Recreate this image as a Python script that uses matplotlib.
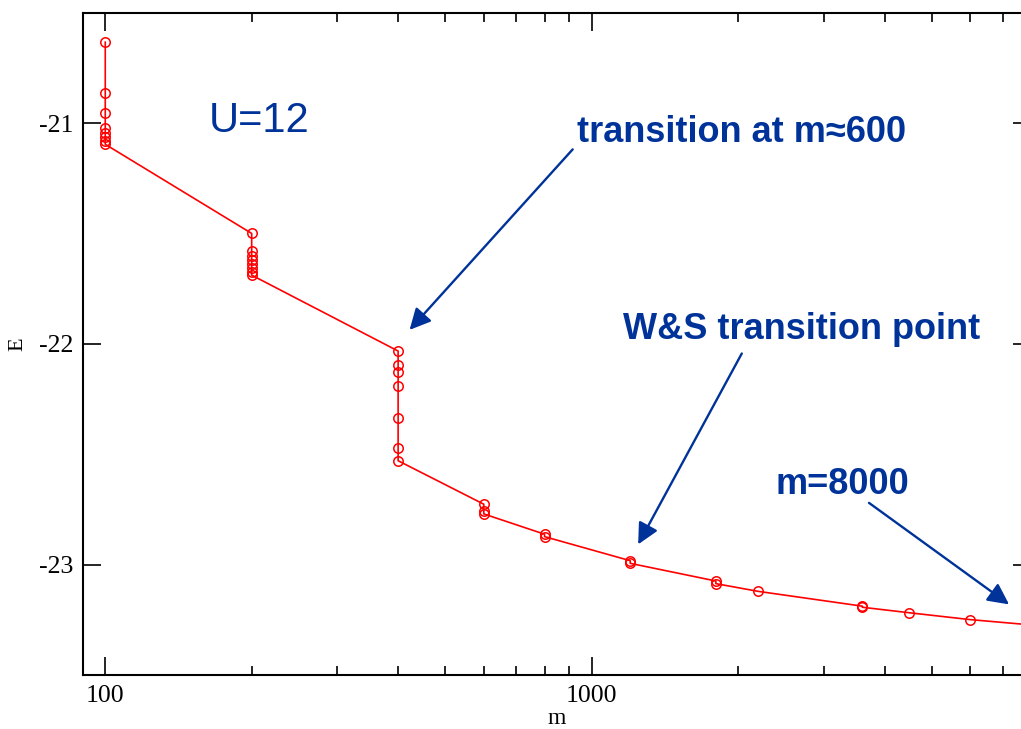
import matplotlib
matplotlib.use("Agg")
import matplotlib.pyplot as plt
from matplotlib.ticker import FixedLocator, NullFormatter, NullLocator

plt.rcParams['axes.unicode_minus'] = False

# Data: m (number of states) and energies E
m_vals = [100, 100, 100, 100, 100, 100, 100, 100,
          200, 200, 200, 200, 200, 200, 200, 200,
          400, 400, 400, 400, 400, 400, 400,
          600, 600, 600,
          800, 800,
          1200, 1200,
          1800, 1800,
          2200,
          3600, 3600,
          4500,
          6000,
          8000]
E_vals = [-20.632, -20.864, -20.955, -21.023, -21.045, -21.064, -21.082, -21.095,
          -21.499, -21.580, -21.600, -21.620, -21.638, -21.656, -21.673, -21.688,
          -22.032, -22.094, -22.129, -22.191, -22.335, -22.471, -22.529,
          -22.726, -22.759, -22.770,
          -22.862, -22.873,
          -22.982, -22.994,
          -23.074, -23.086,
          -23.121,
          -23.188, -23.193,
          -23.218,
          -23.249,
          -23.273]

x_major = [100, 1000]
x_minor = [200, 300, 400, 500, 600, 700, 800, 900,
           2000, 3000, 4000, 5000, 6000, 7000, 8000]
y_major = [-23, -22, -21]

blue = '#003399'

W, H = 1021, 729
fig = plt.figure(figsize=(W / 100, H / 100), dpi=100)
ax = fig.add_axes([83 / W, (H - 675) / H, (1031 - 83) / W, (675 - 13) / H])

ax.plot(m_vals, E_vals, color='red', lw=1.2, marker='o', mfc='none',
        mec='red', ms=6.8, mew=1.1)

ax.set_xscale('log')
ax.set_xlim(90, 8000)
ax.set_ylim(-23.5, -20.5)

ax.xaxis.set_major_locator(FixedLocator(x_major))
ax.xaxis.set_minor_locator(FixedLocator(x_minor))
ax.xaxis.set_minor_formatter(NullFormatter())
ax.set_xticklabels([str(v) for v in x_major])
ax.yaxis.set_major_locator(FixedLocator(y_major))
ax.yaxis.set_minor_locator(NullLocator())
ax.set_yticklabels([str(v) for v in y_major])

ax.tick_params(which='both', direction='in', top=True, right=True, width=1.2)
ax.tick_params(which='major', length=13, pad=7)
ax.tick_params(which='minor', length=6.5)
for lab in ax.get_xticklabels() + ax.get_yticklabels():
    lab.set_fontfamily('Liberation Serif')
    lab.set_fontsize(18.5)
for s in ax.spines.values():
    s.set_linewidth(1.5)

ax.set_xlabel('m', family='Liberation Serif', fontsize=17, labelpad=1)
ax.set_ylabel('E', family='Liberation Serif', fontsize=16, labelpad=8)

# annotations
ax.text(162.9, -21.041, 'U=12', color=blue, family='Liberation Sans',
        fontsize=30, ha='left', va='baseline')
ax.text(931, -21.086, 'transition at m\u2248600', color=blue,
        family='Liberation Sans', fontweight='bold', fontsize=26,
        ha='left', va='baseline')
ax.text(1158, -21.976, 'W&S transition point', color=blue,
        family='Liberation Sans', fontweight='bold', fontsize=26,
        ha='left', va='baseline')
ax.text(2391, -22.680, 'm=8000', color=blue, family='Liberation Sans',
        fontweight='bold', fontsize=26, ha='left', va='baseline')

arrow_kw = dict(arrowstyle='-|>', mutation_scale=32, lw=1.7, color=blue,
                shrinkA=0, shrinkB=0)
ax.annotate('', xy=(422.3, -21.936), xytext=(913.9, -21.118), arrowprops=arrow_kw)
ax.annotate('', xy=(1246, -22.908), xytext=(2035, -22.043), arrowprops=arrow_kw)
ax.annotate('', xy=(7211, -23.180), xytext=(3716, -22.720), arrowprops=arrow_kw)

fig.savefig('out.png', dpi=100)
